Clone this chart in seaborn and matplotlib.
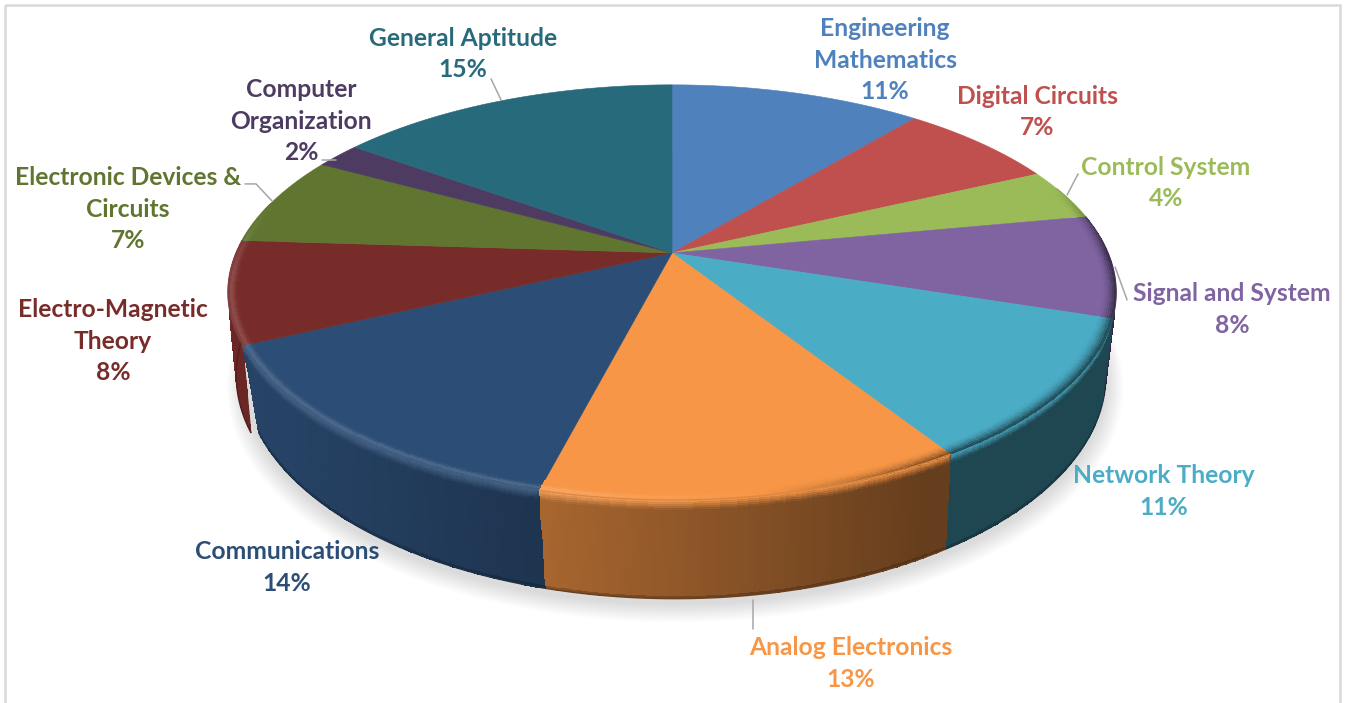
import numpy as np
import seaborn as sns
import matplotlib.pyplot as plt
from matplotlib.colors import to_rgb

subjects = ["Engineering\nMathematics", "Digital Circuits", "Control System", "Signal and System",
            "Network Theory", "Analog Electronics", "Communications", "Electro-Magnetic\nTheory",
            "Electronic Devices &\nCircuits", "Computer\nOrganization", "General Aptitude"]
shares = [11, 7, 4, 8, 11, 13, 14, 8, 7, 2, 15]
colors = ["#4f81bd", "#bf504d", "#9bbb59", "#8064a2", "#4bacc6", "#f79646",
          "#2c4d75", "#772c2a", "#5f7530", "#4d3b62", "#276a7c"]

# label centres and leader lines, in pixels of the picture
label_pos = [(885, 60), (1037, 112), (1166, 183), (1232, 309), (1164, 491), (851, 663),
             (287, 567), (113, 341), (128, 209), (301, 121), (463, 54)]
leaders = [[(491, 79), (501, 100)], [(322, 160), (336, 160)], [(245, 184), (256, 184), (272, 201)],
           [(1078, 174), (1067, 195)], [(1115, 267), (1127, 300)], [(753, 600), (753, 629)]]

# perspective of the tilted disc
CX, CY, RX, RY, P, DEPTH, SHRINK = 672, 253, 436, 200, 0.19, 80, 0.03
EM_INDEX = 7  # this slice's wall sticks out further on the left

sns.set_theme(style="white")
plt.rcParams["font.family"] = ["Lato", "DejaVu Sans"]


def project(t, r=1.0, drop=0.0, shrink=SHRINK):
    s = 1 / (1 + P * r * np.cos(t))
    x = RX * r * np.sin(t) * s * (1 - drop * shrink) + drop * 3
    y = -RY * r * np.cos(t) * s + drop * DEPTH * s
    return CX + x, CY + y


def wall_shade(x):
    return np.clip(0.68 - 0.0007 * (x - 541), 0.41, 0.95)


def mids(a):
    a = (a[:-1, :] + a[1:, :]) / 2
    return (a[:, :-1] + a[:, 1:]) / 2


def draw_wall(ax, start, end, color, shrink=SHRINK):
    ts = np.linspace(start, end, 80)
    drops = np.array([0, 0.02, 0.04, 0.06, 0.08, 0.1, 0.3, 0.5, 0.7, 0.9, 0.975, 1.0])
    xs, ys = project(ts[None, :], 1.0, drops[:, None], shrink)
    xm = mids(xs)
    base = np.array(color)
    lit = np.clip((760 - xm) / 200, 0, 1)[..., None]
    shade = wall_shade(xm)[..., None] * base
    rim = base + (1 - base) * 0.12 * lit
    v = ((drops[:-1] + drops[1:]) / 2)[:, None, None]
    blend = np.clip(v / 0.1, 0, 1)
    rgb = rim * (1 - blend) + shade * blend
    rgb[-1:] *= 0.8
    ax.pcolormesh(xs, ys, np.clip(rgb, 0, 1), shading="flat", linewidth=0, antialiased=False, zorder=3)
    # smooth the stepped mesh edges
    ax.plot(xs[-1], ys[-1], color=rgb[-1].mean(axis=0), linewidth=1, zorder=3)
    ax.plot(xs[:, 0], ys[:, 0], color=rgb[5, 0], linewidth=0.7, zorder=3)


def draw_rim(ax, start, end, color):
    ts = np.linspace(start, end, 80)
    rs = np.linspace(0.965, 1.0, 9)
    xs, ys = project(ts[None, :], rs[:, None])
    xm = mids(xs)
    tm = (ts[:-1] + ts[1:]) / 2
    fade = np.clip((tm - np.radians(70)) / np.radians(20), 0, 1) * np.clip((np.radians(285) - tm) / np.radians(20), 0, 1)
    w = ((rs[:-1] + rs[1:]) / 2 - 0.965) / 0.035
    h = np.clip((760 - xm) / 200, -1, 1) * fade[None, :]
    base = np.array(color)
    dark = base * wall_shade(xm)[..., None]
    bell = np.exp(-((w - 0.78) / 0.22) ** 2)[:, None]
    up = np.clip(h, 0, 1) * bell * 0.15
    down = np.clip(-h, 0, 1) * (w[:, None] ** 2)
    rgb = base + (1 - base) * up[..., None]
    rgb = rgb * (1 - down[..., None]) + dark * down[..., None]
    ax.pcolormesh(xs, ys, np.clip(rgb, 0, 1), shading="flat", linewidth=0, antialiased=False, zorder=5)
    ax.plot(xs[-1], ys[-1], color=rgb[-1].mean(axis=0), linewidth=0.8, zorder=5)


fig = plt.figure(figsize=(13.451, 7.031), dpi=100)
ax = fig.add_axes([0, 0, 1, 1])
ax.set_xlim(0, 1345)
ax.set_ylim(703, 0)
ax.axis("off")

# chart area border
ax.add_patch(plt.Rectangle((5, 5), 1335, 760, fill=False, edgecolor="#d9d9d9", linewidth=1.8, zorder=1))

edges = np.radians(np.cumsum([0] + shares) / sum(shares) * 360)
palette = [to_rgb(c) for c in sns.color_palette(colors)]

# soft shadow under the disc
ring = np.linspace(0, 2 * np.pi, 240)
sx, sy = project(ring, 1.0, 1.0)
for grow in range(18, 0, -1):
    ax.fill(CX + (sx - CX) * (1 + grow / 440), CY + 5 + (sy - CY) * (1 + grow / 330),
            color="black", alpha=0.009, linewidth=0, zorder=2)

# walls: the ones furthest from the front go first
order = sorted(range(len(shares)), key=lambda i: -abs((edges[i] + edges[i + 1]) / 2 - np.pi))
for i in order:
    lo, hi = max(edges[i], np.radians(80)), min(edges[i + 1], np.radians(285))
    if lo < hi:
        draw_wall(ax, lo, hi, palette[i], 0.012 if i == EM_INDEX else SHRINK)

# top face
for i, c in enumerate(palette):
    ts = np.linspace(edges[i], edges[i + 1], 80)
    x, y = project(ts)
    ax.fill(np.r_[CX, x], np.r_[CY, y], color=c, linewidth=0.4, zorder=4)

for i in order:
    lo, hi = max(edges[i], np.radians(70)), min(edges[i + 1], np.radians(285))
    if lo < hi:
        draw_rim(ax, lo, hi, palette[i])

for pts in leaders:
    ax.plot(*zip(*pts), color="#a6a6a6", linewidth=1.1, zorder=6)

for name, share, c, (lx, ly) in zip(subjects, shares, colors, label_pos):
    ax.text(lx, ly, f"{name}\n{share}%", color=c, fontsize=17.7, fontweight="bold",
            ha="center", va="center", multialignment="center", linespacing=1.47, zorder=7)

fig.savefig("out.png", dpi=100)
